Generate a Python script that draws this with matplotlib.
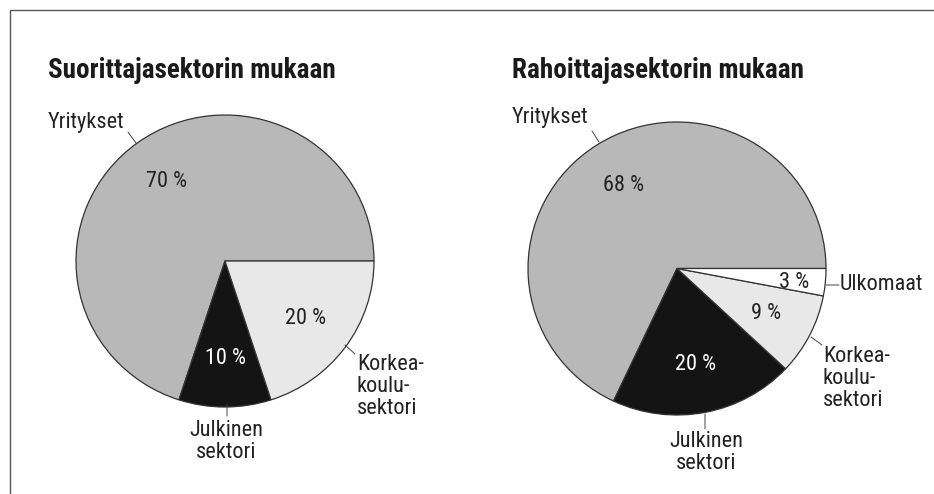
import matplotlib
matplotlib.use("Agg")
import matplotlib.pyplot as plt
from matplotlib.patches import Rectangle

plt.rcParams['font.family'] = ['Roboto Condensed', 'DejaVu Sans']

W, H = 934, 494

# data
titles = ["Suorittajasektorin mukaan", "Rahoittajasektorin mukaan"]
cats_left = ["Yritykset", "Julkinen\nsektori", "Korkea-\nkoulu-\nsektori"]
vals_left = [70, 10, 20]
cats_right = ["Yritykset", "Julkinen\nsektori", "Korkea-\nkoulu-\nsektori", "Ulkomaat"]
vals_right = [68, 20, 9, 3]

col = {"Yritykset": "#b8b8b8", "Julkinen\nsektori": "#141414",
       "Korkea-\nkoulu-\nsektori": "#e8e8e8", "Ulkomaat": "#ffffff"}
txtcol = {"Yritykset": "#222222", "Julkinen\nsektori": "white",
          "Korkea-\nkoulu-\nsektori": "#222222", "Ulkomaat": "#222222"}

fig = plt.figure(figsize=(W / 100, H / 100), dpi=100)

def fx(x):
    return x / W

def fy(y):
    return 1 - y / H

# frame
fig.patches.append(Rectangle((fx(10), -0.05), 1.1, fy(10) + 0.05, transform=fig.transFigure,
                             fill=False, edgecolor="#555555", lw=1.0))

def make_pie(cx, cy, rx, ry, cats, vals, title, tx):
    ax = fig.add_axes([fx(cx - rx), fy(cy + ry), 2 * rx / W, 2 * ry / H])
    it = iter(vals)
    wedges, _, pcts = ax.pie(vals, colors=[col[c] for c in cats], startangle=0,
                             counterclock=True, radius=1,
                             autopct=lambda p: "%d %%" % next(it), pctdistance=0.67,
                             wedgeprops=dict(edgecolor="#333333", linewidth=0.9),
                             textprops=dict(fontsize=16))
    for t, c in zip(pcts, cats):
        t.set_color(txtcol[c])
    ax.set_xlim(-1, 1)
    ax.set_ylim(-1, 1)
    ax.set_aspect("auto")
    fig.text(fx(tx), fy(78), title, fontsize=19.5, fontweight="bold", color="#1a1a1a",
             ha="left", va="baseline")
    return ax, pcts

def leader(ax, c, p0, p1, label, tp, ha="left", va="top"):
    cx, cy, rx, ry = c
    d = lambda x, y: ((x - cx) / rx, (cy - y) / ry)
    ax.annotate("", xy=d(*p0), xytext=d(*p1),
                arrowprops=dict(arrowstyle="-", lw=0.7, color="#444444",
                                shrinkA=0, shrinkB=0), annotation_clip=False)
    ax.text(*d(*tp), label, fontsize=16, color="#222222",
            ha=ha, va=va, linespacing=1.05, clip_on=False)

# left pie
c = (225, 261, 149, 146)
axl, pl = make_pie(*c, cats_left, vals_left, titles[0], 48)
leader(axl, c, (136, 143), (128, 132), cats_left[0], (48, 128), va="baseline")
leader(axl, c, (227, 404), (227, 416), cats_left[1], (226, 420), ha="center")
leader(axl, c, (345, 345), (355, 354), cats_left[2], (357, 354))

# right pie
c = (677, 268.5, 149, 146.5)
axr, pr = make_pie(*c, cats_right, vals_right, titles[1], 512)
pr[3].set_position(((794 - c[0]) / c[2], (c[1] - 283) / c[3]))
leader(axr, c, (599, 142), (592, 131), cats_right[0], (512, 123), va="baseline")
leader(axr, c, (705, 414), (705, 429), cats_right[1], (706, 431), ha="center")
leader(axr, c, (811, 337), (822, 345), cats_right[2], (823, 346))
leader(axr, c, (826, 285), (839, 285), cats_right[3], (840, 285), va="center")

fig.savefig("out.png", dpi=100, facecolor="white")
